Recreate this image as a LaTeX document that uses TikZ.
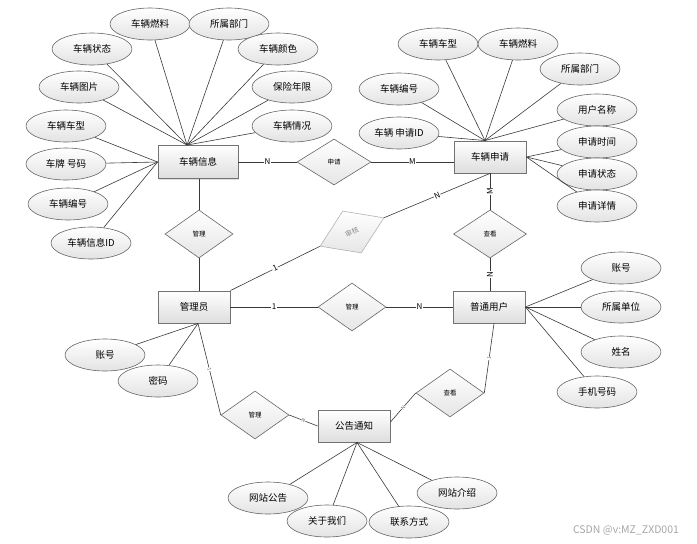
\documentclass[tikz,border=0pt]{standalone}
\usepackage{fontspec}
\setmainfont{Noto Sans CJK SC}
\usetikzlibrary{shapes.geometric,shadows,calc}
\begin{document}
\begin{tikzpicture}[x=1pt,y=-1pt,
 conn/.style={draw=black!78, line width=0.6pt},
 ent/.style={rectangle, draw=black!55, line width=0.9pt, top color=white, bottom color=black!13, minimum width=72pt, minimum height=32pt, inner sep=0pt, font=\fontsize{9.5}{10}\selectfont, drop shadow={shadow xshift=1pt, shadow yshift=-1pt, opacity=0.25, fill=black!50}},
 attr/.style={ellipse, draw=black!60, line width=0.6pt, top color=white, bottom color=black!11, minimum width=80pt, minimum height=32pt, inner sep=0pt, font=\fontsize{9.5}{10}\selectfont},
 rel/.style={diamond, draw=black!60, line width=0.6pt, top color=white, bottom color=black!10, minimum width=68pt, minimum height=48pt, inner sep=0pt, font=\fontsize{6.5}{6.5}\selectfont},
 card/.style={fill=white, inner sep=0.6pt, font=\fontsize{8}{8}\selectfont},
 tiny/.style={fill=white, inner sep=0.3pt, font=\fontsize{5}{5}\selectfont, text=black!60, sloped}
]
\useasboundingbox (0,0) rectangle (697,544);

% entities
\node[ent, minimum width=80pt, minimum height=33pt] (vi) at (198,162) {车辆信息};
\node[ent] (va) at (490,157) {车辆申请};
\node[ent] (adm) at (194,307) {管理员};
\node[ent] (usr) at (489,307) {普通用户};
\node[ent] (gg) at (354,426) {公告通知};

% relationships
\node[rel, minimum width=74pt, minimum height=46pt] (rapply) at (334,162) {申请};
\node[rel] (rm1) at (199,234) {管理};
\node[rel, rotate=24, draw=black!30, text=black!45, minimum width=70pt, minimum height=46pt, font=\fontsize{7}{7}\selectfont] (rsh) at (352,232) {审核};
\node[rel, minimum width=73pt] (rck1) at (490,234) {查看};
\node[rel] (rm2) at (352,307) {管理};
\node[rel] (rm3) at (255,415) {管理};
\node[rel] (rck2) at (450,393) {查看};

% helper points
\coordinate (vit) at ($(vi.north)+(-11,0)$);
\coordinate (vat) at ($(va.north)+(-5,0)$);
\coordinate (admb) at ($(adm.south)+(4,0)$);
\coordinate (ggb) at ($(gg.south)+(3,0)$);
\coordinate (gge) at ($(gg.east)+(0,-4)$);
\coordinate (usrb) at ($(usr.south)+(5,0)$);

% relationship connectors
\draw[conn] (vi) -- node[card]{N} (rapply);
\draw[conn] (rapply.east) -- node[card]{M} (rapply.east -| va.west);
\draw[conn] (vi.south -| rm1) -- (rm1.north);
\draw[conn] (rm1.south) -- (rm1.south |- adm.north);
\draw[conn] (adm.north east) -- node[card, sloped]{1} (rsh.west);
\draw[conn] (rsh.east) -- node[card, sloped]{N} (va.south);
\draw[conn] (va.south) -- node[card, rotate=90]{M} (rck1.north);
\draw[conn] (rck1.south) -- node[card, rotate=90]{N} (rck1.south |- usr.north);
\draw[conn] (adm.east) -- node[card]{1} (rm2.west);
\draw[conn] (rm2.east) -- node[card]{N} (usr.west);
\draw[conn] (admb) -- node[tiny]{1} (rm3.west);
\draw[conn] (rm3.east) -- node[tiny]{N} (gg.west);
\draw[conn] (gge) -- node[tiny]{N} (rck2.west);
\draw[conn] (rck2.east) -- node[tiny]{1} (usrb);

% attributes of 车辆信息
\node[attr] (v1) at (150,24) {车辆燃料};
\node[attr] (v2) at (229,24) {所属部门};
\node[attr] (v3) at (92,49) {车辆状态};
\node[attr] (v4) at (278,49) {车辆颜色};
\node[attr] (v5) at (79,87) {车辆图片};
\node[attr] (v6) at (292,87) {保险年限};
\node[attr] (v7) at (292,126) {车辆情况};
\node[attr] (v8) at (66,126) {车辆车型};
\node[attr] (v9) at (66,164) {车牌 号码};
\node[attr] (v10) at (68,204) {车辆编号};
\node[attr] (v11) at (91,243) {车辆信息ID};
\foreach \a in {v1,v2,v3,v4,v5,v6,v7} \draw[conn] (\a) -- (vit);
\foreach \a in {v8,v9,v10,v11} \draw[conn] (\a) -- (vi.west);

% attributes of 车辆申请
\node[attr] (s1) at (438,44) {车辆车型};
\node[attr] (s2) at (518,44) {车辆燃料};
\node[attr] (s3) at (580,69) {所属部门};
\node[attr] (s4) at (399,89) {车辆编号};
\node[attr] (s5) at (597,110) {用户名称};
\node[attr] (s6) at (399,133) {车辆 申请ID};
\node[attr] (s7) at (597,142) {申请时间};
\node[attr] (s8) at (597,174) {申请状态};
\node[attr] (s9) at (597,206) {申请详情};
\foreach \a in {s1,s2,s3,s4,s5,s6} \draw[conn] (\a) -- (vat);
\foreach \a in {s7,s8,s9} \draw[conn] (\a) -- (va.east);

% attributes of 普通用户
\node[attr] (u1) at (621,268) {账号};
\node[attr] (u2) at (621,307) {所属单位};
\node[attr] (u3) at (621,352) {姓名};
\node[attr] (u4) at (597,392) {手机号码};
\foreach \a in {u1,u2,u3,u4} \draw[conn] (\a) -- (usr.east);

% attributes of 管理员
\node[attr] (m1) at (105,355) {账号};
\node[attr] (m2) at (158,381) {密码};
\foreach \a in {m1,m2} \draw[conn] (\a) -- (admb);

% attributes of 公告通知
\node[attr] (g1) at (268,498) {网站公告};
\node[attr] (g2) at (327,521) {关于我们};
\node[attr] (g3) at (409,522) {联系方式};
\node[attr] (g4) at (457,493) {网站介绍};
\foreach \a in {g1,g2,g3,g4} \draw[conn] (\a) -- (ggb);

% watermark
\node[text=black!35, font=\fontsize{10.5}{10.5}\selectfont] (wm) at (626,530) {CSDN @v:MZ\_ZXD001};
\end{tikzpicture}
\end{document}
